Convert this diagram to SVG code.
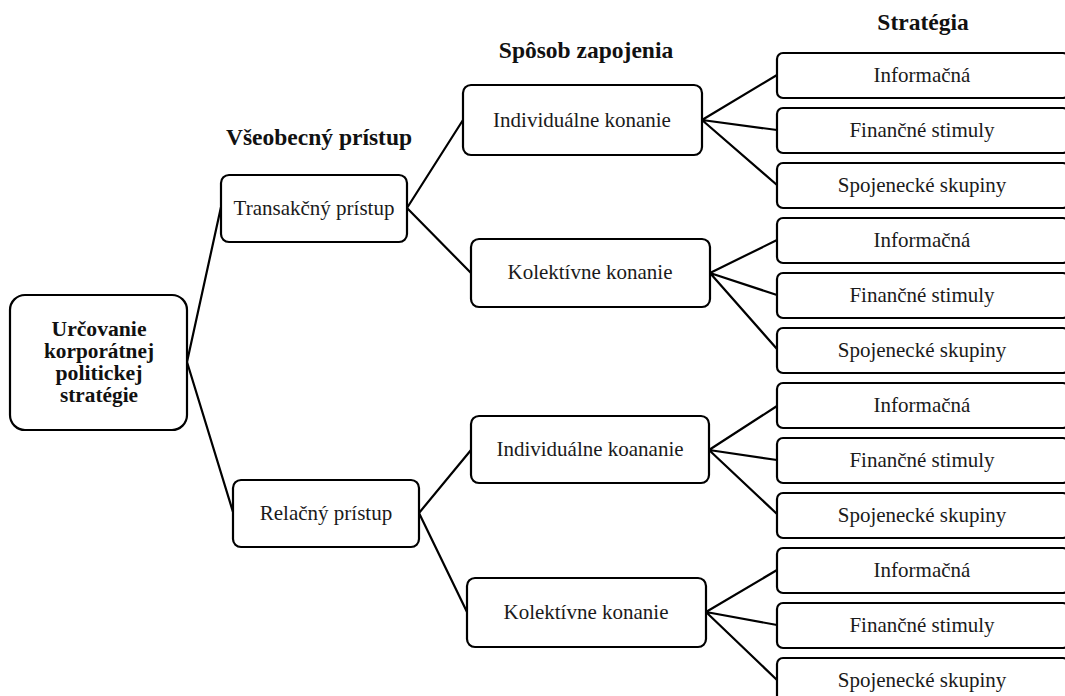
<svg xmlns="http://www.w3.org/2000/svg" width="1065" height="696" viewBox="0 0 1065 696">
<style>
.box{fill:#fff;stroke:#000;stroke-width:2.2}
.t{font-family:"Liberation Serif","Times New Roman",serif;font-size:21px;fill:#1a1a1a;text-anchor:middle}
.h{font-family:"Liberation Serif","Times New Roman",serif;font-size:23.5px;font-weight:bold;fill:#111;text-anchor:middle}
.r{font-family:"Liberation Serif","Times New Roman",serif;font-size:20px;font-weight:bold;fill:#111;text-anchor:middle}
.c{stroke:#000;stroke-width:2.2;fill:none}
</style>
<rect width="1065" height="696" fill="#fff"/>
<g id="connectors">
<path class="c" d="M187,362 L221,207 M187,362 L233,512"/>
<path class="c" d="M407,208 L463,120 M407,208 L471,273"/>
<path class="c" d="M419,513 L471,450 M419,513 L467,612"/>
<path class="c" d="M702,120 L777,75 M702,120 L777,130 M702,120 L777,185"/>
<path class="c" d="M710,273 L777,240 M710,273 L777,295 M710,273 L777,349"/>
<path class="c" d="M709,450 L777,406 M709,450 L777,460 M709,450 L777,514"/>
<path class="c" d="M706,612 L777,570 M706,612 L777,625 M706,612 L777,680"/>
</g>
<g id="headers">
<text class="h" x="923" y="30">Stratégia</text>
<text class="h" x="586" y="58">Spôsob zapojenia</text>
<text class="h" x="319" y="145">Všeobecný prístup</text>
</g>
<g id="root">
<rect class="box" x="10" y="295" width="177" height="135" rx="15"/>
<text class="r" x="99" y="336" textLength="95" lengthAdjust="spacingAndGlyphs">Určovanie</text>
<text class="r" x="99" y="358" textLength="110" lengthAdjust="spacingAndGlyphs">korporátnej</text>
<text class="r" x="99" y="380" textLength="87" lengthAdjust="spacingAndGlyphs">politickej</text>
<text class="r" x="99" y="402" textLength="78" lengthAdjust="spacingAndGlyphs">stratégie</text>
</g>
<g id="transakcny">
<rect class="box" x="221" y="175" width="186" height="67" rx="8"/>
<text class="t" x="314" y="215">Transakčný prístup</text>
</g>
<g id="relacny">
<rect class="box" x="233" y="480" width="186" height="67" rx="8"/>
<text class="t" x="326" y="520">Relačný prístup</text>
</g>
<g id="individualne1">
<rect class="box" x="463" y="85" width="239" height="70" rx="8"/>
<text class="t" x="582" y="127">Individuálne konanie</text>
</g>
<g id="kolektivne1">
<rect class="box" x="471" y="239" width="239" height="68" rx="8"/>
<text class="t" x="590" y="279">Kolektívne konanie</text>
</g>
<g id="individualne2">
<rect class="box" x="471" y="416" width="238" height="67" rx="8"/>
<text class="t" x="590" y="456">Individuálne koananie</text>
</g>
<g id="kolektivne2">
<rect class="box" x="467" y="578" width="239" height="69" rx="8"/>
<text class="t" x="586" y="619">Kolektívne konanie</text>
</g>
<g id="s1"><rect class="box" x="777" y="53" width="292" height="45" rx="6"/><text class="t" x="922" y="82">Informačná</text></g>
<g id="s2"><rect class="box" x="777" y="108" width="292" height="45" rx="6"/><text class="t" x="922" y="137">Finančné stimuly</text></g>
<g id="s3"><rect class="box" x="777" y="163" width="292" height="45" rx="6"/><text class="t" x="922" y="192">Spojenecké skupiny</text></g>
<g id="s4"><rect class="box" x="777" y="218" width="292" height="45" rx="6"/><text class="t" x="922" y="247">Informačná</text></g>
<g id="s5"><rect class="box" x="777" y="273" width="292" height="45" rx="6"/><text class="t" x="922" y="302">Finančné stimuly</text></g>
<g id="s6"><rect class="box" x="777" y="328" width="292" height="45" rx="6"/><text class="t" x="922" y="357">Spojenecké skupiny</text></g>
<g id="s7"><rect class="box" x="777" y="383" width="292" height="45" rx="6"/><text class="t" x="922" y="412">Informačná</text></g>
<g id="s8"><rect class="box" x="777" y="438" width="292" height="45" rx="6"/><text class="t" x="922" y="467">Finančné stimuly</text></g>
<g id="s9"><rect class="box" x="777" y="493" width="292" height="45" rx="6"/><text class="t" x="922" y="522">Spojenecké skupiny</text></g>
<g id="s10"><rect class="box" x="777" y="548" width="292" height="45" rx="6"/><text class="t" x="922" y="577">Informačná</text></g>
<g id="s11"><rect class="box" x="777" y="603" width="292" height="45" rx="6"/><text class="t" x="922" y="632">Finančné stimuly</text></g>
<g id="s12"><rect class="box" x="777" y="658" width="292" height="45" rx="6"/><text class="t" x="922" y="687">Spojenecké skupiny</text></g>
</svg>
